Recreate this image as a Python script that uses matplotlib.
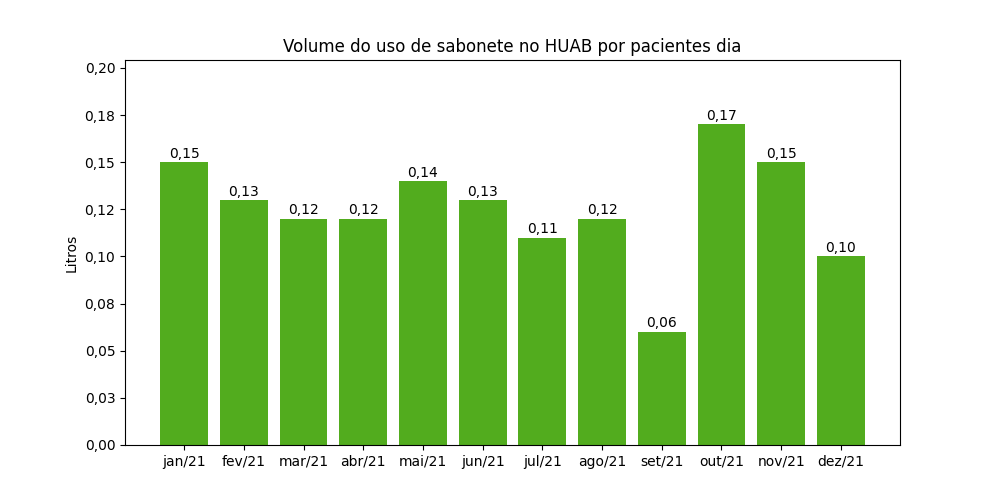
import matplotlib
matplotlib.use('Agg')
import matplotlib.pyplot as plt
from matplotlib.ticker import FuncFormatter, FixedLocator

# dados mensais
meses = ['jan/21', 'fev/21', 'mar/21', 'abr/21', 'mai/21', 'jun/21',
         'jul/21', 'ago/21', 'set/21', 'out/21', 'nov/21', 'dez/21']
volume = [0.15, 0.13, 0.12, 0.12, 0.14, 0.13, 0.11, 0.12, 0.06, 0.17, 0.15, 0.10]


def virgula(v, pos=None):
    return ('%.2f' % v).replace('.', ',')


fig, ax = plt.subplots(figsize=(10, 5), dpi=100)
bars = ax.bar(meses, volume, color='#52ac1e')
ax.bar_label(bars, labels=[virgula(v) for v in volume], padding=1)

ax.set_title('Volume do uso de sabonete no HUAB por pacientes dia')
ax.set_ylabel('Litros')
ax.set_ylim(0, 0.2042)
ax.yaxis.set_major_locator(FixedLocator([i * 0.025 for i in range(9)]))
ax.yaxis.set_major_formatter(FuncFormatter(virgula))

fig.savefig('out.png')
